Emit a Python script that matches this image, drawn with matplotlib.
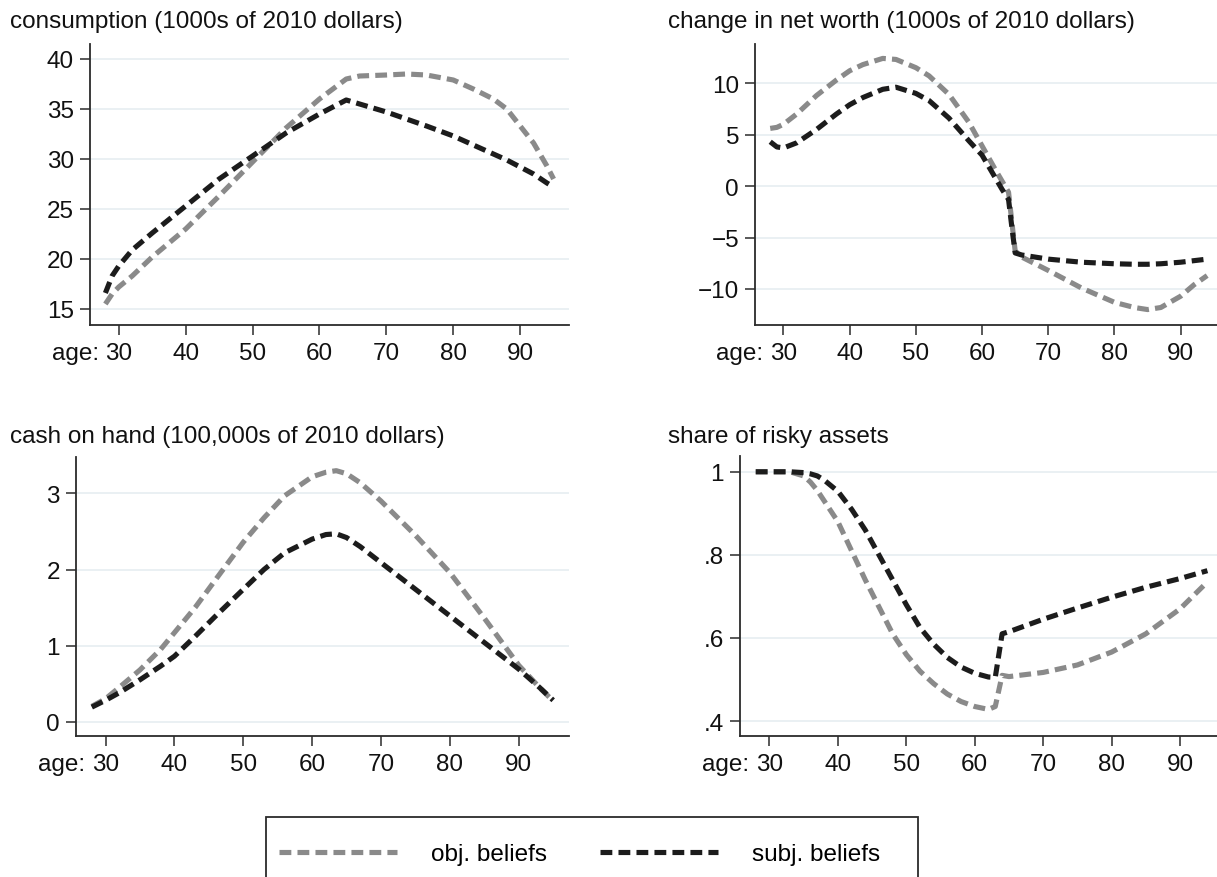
import matplotlib
matplotlib.use('Agg')
import matplotlib.pyplot as plt
from matplotlib.patches import Rectangle

plt.rcParams['font.family'] = ['Liberation Sans', 'DejaVu Sans']

# consumption (1000s of 2010 dollars)
cons_age = [28, 29, 30, 32, 35, 40, 45, 50, 55, 60, 62, 64, 66, 70, 73, 76, 80, 83, 86, 88, 90, 92, 94, 95]
cons_obj = [15.5, 16.5, 17.2, 18.3, 20.2, 23.0, 26.3, 29.7, 33.1, 36.0, 37.0, 38.0, 38.3, 38.4, 38.5, 38.4,
            37.9, 37.0, 36.0, 35.0, 33.3, 31.6, 29.3, 28.0]
cons_subj = [16.6, 18.3, 19.3, 20.9, 22.6, 25.3, 28.0, 30.3, 32.6, 34.5, 35.2, 35.9, 35.5, 34.7, 34.0, 33.3,
             32.3, 31.4, 30.5, 29.9, 29.2, 28.5, 27.6, 27.2]

# change in net worth (1000s of 2010 dollars)
nw_age = [28, 29, 30, 32, 35, 38, 40, 42, 45, 47, 50, 52, 55, 58, 60, 62, 63, 64, 64.5, 65, 66,
          70, 75, 80, 83, 85, 87, 90, 92, 94]
nw_obj = [5.6, 5.7, 6.0, 7.0, 8.8, 10.3, 11.2, 11.8, 12.4, 12.3, 11.5, 10.7, 8.9, 6.2, 3.9, 1.6, 0.5, -0.6,
          -3.5, -6.3, -6.9, -8.2, -9.9, -11.3, -11.8, -12.0, -11.8, -10.7, -9.6, -8.7]
nw_subj = [4.3, 3.8, 3.7, 4.2, 5.5, 7.0, 7.9, 8.6, 9.4, 9.6, 9.0, 8.3, 6.6, 4.4, 3.0, 0.8, -0.3, -1.3,
           -4.0, -6.5, -6.7, -7.1, -7.4, -7.55, -7.6, -7.6, -7.55, -7.4, -7.25, -7.1]

# cash on hand (100,000s of 2010 dollars)
coh_age = [28, 30, 32, 35, 38, 40, 43, 46, 50, 53, 56, 60, 62, 63.5, 65, 67, 70, 75, 80, 85, 90, 93, 95]
coh_obj = [0.20, 0.30, 0.45, 0.68, 0.95, 1.17, 1.50, 1.87, 2.36, 2.68, 2.97, 3.22, 3.28, 3.30, 3.26, 3.14,
           2.90, 2.45, 1.96, 1.36, 0.74, 0.45, 0.27]
coh_subj = [0.19, 0.28, 0.38, 0.55, 0.73, 0.86, 1.12, 1.39, 1.74, 2.00, 2.22, 2.40, 2.46, 2.47, 2.42, 2.30,
            2.09, 1.74, 1.39, 1.04, 0.69, 0.45, 0.28]

# share of risky assets
risk_age = [28, 30, 33, 35, 36, 37, 38, 40, 42, 44, 46, 48, 50, 52, 54, 56, 58, 60, 62, 63, 64, 65,
            70, 75, 80, 85, 90, 94]
risk_obj = [1.0, 1.0, 1.0, 0.99, 0.975, 0.955, 0.93, 0.88, 0.81, 0.74, 0.675, 0.61, 0.56, 0.52, 0.49,
            0.465, 0.447, 0.435, 0.428, 0.435, 0.51, 0.507, 0.517, 0.535, 0.566, 0.61, 0.67, 0.735]
risk_subj = [1.0, 1.0, 1.0, 0.998, 0.995, 0.99, 0.98, 0.953, 0.91, 0.86, 0.80, 0.74, 0.68, 0.625, 0.585,
             0.553, 0.53, 0.515, 0.506, 0.505, 0.61, 0.615, 0.645, 0.672, 0.698, 0.722, 0.743, 0.762]

age_ticks = [30, 40, 50, 60, 70, 80, 90]
series_labels = ['obj. beliefs', 'subj. beliefs']

GRAY = '#8a8a8a'
BLACK = '#1c1c1c'
AXCOL = '#2b2b2b'
TXT = '#111111'
FS = 17.5

W, H = 1217, 878
fig = plt.figure(figsize=(W / 100, H / 100), dpi=100)


def add_panel(left, top, right, bottom):
    return fig.add_axes([left / W, 1 - bottom / H, (right - left) / W, (bottom - top) / H])


def draw(ax, ages, obj, subj, yticks, ylabels, ylim, title, title_xy):
    ax.set_xlim(25.7, 97.3)
    ax.set_ylim(*ylim)
    for y in yticks:
        ax.axhline(y, color='#e6eef1', lw=1.2, zorder=0)
    l1, = ax.plot(ages, obj, color=GRAY, lw=3.7, dashes=(2.3, 1.2))
    l2, = ax.plot(ages, subj, color=BLACK, lw=3.7, dashes=(2.3, 1.2))
    ax.set_yticks(yticks)
    ax.set_yticklabels(ylabels)
    ax.set_xticks(age_ticks)
    ax.set_xticklabels([str(a) for a in age_ticks])
    for s in ['top', 'right']:
        ax.spines[s].set_visible(False)
    for s in ['left', 'bottom']:
        ax.spines[s].set_color(AXCOL)
        ax.spines[s].set_linewidth(1.3)
    ax.tick_params(axis='both', direction='out', length=7, width=1.1, color=AXCOL,
                   labelsize=FS, labelcolor=TXT)
    ax.tick_params(axis='y', pad=4.5)
    ax.tick_params(axis='x', pad=5)
    ax.annotate('age:', xy=(30, 0), xycoords=('data', 'axes fraction'),
                xytext=(-20, -12 * 100 / 72), textcoords='offset pixels',
                ha='right', va='top', fontsize=FS, color=TXT)
    fig.text(title_xy[0] / W, 1 - title_xy[1] / H, title, ha='left', va='center',
             fontsize=FS, color=TXT)
    return l1, l2


ax1 = add_panel(90, 45, 569, 326)
h = draw(ax1, cons_age, cons_obj, cons_subj, [15, 20, 25, 30, 35, 40],
         ['15', '20', '25', '30', '35', '40'], (13.4, 41.5),
         'consumption (1000s of 2010 dollars)', (10, 22))

ax2 = add_panel(755, 45, 1229, 326)
draw(ax2, nw_age, nw_obj, nw_subj, [-10, -5, 0, 5, 10],
     ['\u221210', '\u22125', '0', '5', '10'], (-13.5, 13.8),
     'change in net worth (1000s of 2010 dollars)', (668, 22))

ax3 = add_panel(76, 458, 569, 737)
draw(ax3, coh_age, coh_obj, coh_subj, [0, 1, 2, 3],
     ['0', '1', '2', '3'], (-0.19, 3.48),
     'cash on hand (100,000s of 2010 dollars)', (10, 437))

ax4 = add_panel(740, 457, 1230, 737)
draw(ax4, risk_age, risk_obj, risk_subj, [0.4, 0.6, 0.8, 1.0],
     ['.4', '.6', '.8', '1'], (0.364, 1.038),
     'share of risky assets', (668, 437))

# legend frame runs past the bottom edge, as in the original export
fig.patches.append(Rectangle((266 / W, 1 - 905 / H), (918 - 266) / W, (905 - 818) / H,
                             transform=fig.transFigure, fill=False, edgecolor=AXCOL, lw=1.3))
fig.legend(h, series_labels, loc='center left', bbox_to_anchor=(279 / W, 1 - 855 / H),
           ncol=2, frameon=False, fontsize=FS, handlelength=4.85, handletextpad=1.4,
           columnspacing=2.2, borderpad=0, borderaxespad=0)

fig.savefig('out.png', dpi=100)
